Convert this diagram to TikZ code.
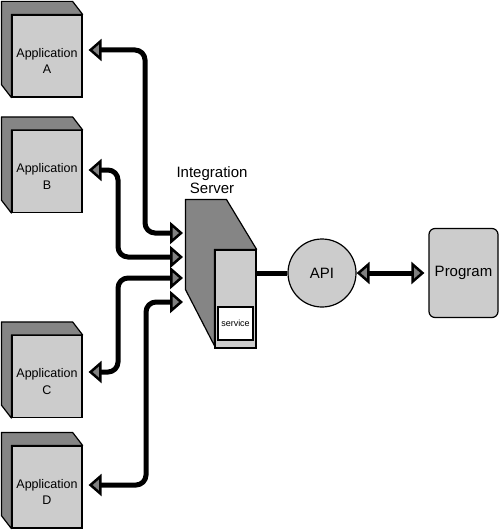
\documentclass[tikz,border=0pt]{standalone}
\usepackage{fontspec}
\setmainfont{Liberation Sans}
\usetikzlibrary{arrows.meta,positioning}
\definecolor{darkface}{gray}{0.52}
\definecolor{lightface}{gray}{0.8}
\definecolor{tipgray}{gray}{0.5}

\begin{document}
\begin{tikzpicture}[x=1pt, y=-1pt, node distance=115pt]
  \tikzstyle{app} = [rectangle, draw, line width=1.2pt, fill=lightface, minimum width=70pt,
                                    minimum height=82pt, inner sep=0pt]
  \tikzstyle{applabel} = [align=center, yshift=-5pt, font=\fontsize{12.5}{16.5}\selectfont]
  \tikzstyle{depth} = [draw, line width=1.2pt, fill=darkface, line join=round]
  \tikzstyle{panel} = [rectangle, draw, line width=1.2pt, fill=lightface, minimum width=41pt,
                                    minimum height=98pt]
  \tikzstyle{svc} = [rectangle, draw, line width=1.2pt, fill=white, minimum width=35pt,
                                    minimum height=33pt, font=\fontsize{9}{10}\selectfont]
  \tikzstyle{link} = [line width=5pt, rounded corners=10pt,
                                    arrows={Triangle[length=13pt, width=22pt, line width=2.5pt, fill=tipgray]-Triangle[length=13pt, width=22pt, line width=2.5pt, fill=tipgray]}]
\useasboundingbox (0,0) rectangle (500,532);
\node[app, label={[applabel]center:Application\\A}] (appA) at (47,56) {};
\node[app, below of=appA, yshift=-0.5pt, label={[applabel]center:Application\\B}] (appB) {};
\node[app, below of=appB, yshift=-90pt, label={[applabel]center:Application\\C}] (appC) {};
\node[app, below of=appC, yshift=4.5pt, label={[applabel]center:Application\\D}] (appD) {};
\foreach \a in {appA,appB,appC,appD}
  \draw[depth] ([shift={(-10,-13)}]\a.north west) -- ([shift={(-10,-13)}]\a.north east)
    -- (\a.north east) -- (\a.north west) -- (\a.south west)
    -- ([shift={(-10,-13)}]\a.south west) -- cycle;
% integration server
\node[panel] (server) at (235.5,299) {};
\draw[depth] ([shift={(-29,-50)}]server.north west) -- ([shift={(12,-50)}]server.north west)
  -- (server.north east) -- (server.north west) -- ([yshift=3pt]server.south west)
  -- ([shift={(-29,40)}]server.north west) -- cycle;
\node[svc] (svc) at ([yshift=-24.5pt]server.center) {service};
\node[align=center, font=\fontsize{15}{16}\selectfont] (title) at (212,180) {Integration\\Server};
\node[circle, draw, line width=1.2pt, fill=lightface, minimum size=68pt,
      font=\fontsize{15}{16}\selectfont] (api) at (322,273) {API};
\node[rectangle, draw, line width=1.2pt, fill=lightface, rounded corners=6pt, minimum width=69pt,
      minimum height=89pt, font=\fontsize{15}{16}\selectfont, right of=api, node distance=141.5pt] (prog) {Program};
\coordinate (in1) at (183,233);
\coordinate (in2) at (183,257);
\coordinate (in3) at (183,278);
\coordinate (in4) at (183,302);
\draw[link, shorten >=6pt] (in1) -- ++(-38,0) |- ([yshift=6pt]appA.east);
\draw[link, shorten >=6pt] (in2) -- ++(-65,0) |- ([yshift=1.5pt]appB.east);
\draw[link, shorten >=6pt] (in3) -- ++(-65,0) |- ([yshift=4.5pt]appC.east);
\draw[link, shorten >=6pt] (in4) -- ++(-37,0) |- ([yshift=2pt]appD.east);
\draw[line width=5pt] (server.east |- api.west) -- (api.west);
\draw[link, shorten >=4pt] (api) -- (prog);
\end{tikzpicture}
\end{document}
